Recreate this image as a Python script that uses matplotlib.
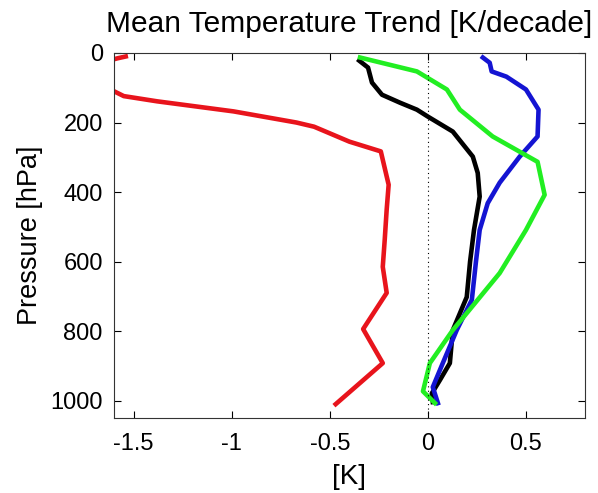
import matplotlib
matplotlib.use("Agg")
import matplotlib.pyplot as plt

plt.rcParams['font.family'] = ['Liberation Sans', 'DejaVu Sans']

red_p = [10, 15, 40, 70, 100, 110, 124, 139, 168, 200, 212, 255, 283, 379, 450, 537, 615, 690, 794, 892, 1010]
red_t = [-1.54, -1.58, -1.75, -1.8, -1.65, -1.6, -1.55, -1.38, -0.99, -0.67, -0.58, -0.40, -0.24, -0.20, -0.21, -0.22, -0.23, -0.21, -0.33, -0.23, -0.47]

black_p = [22, 42, 85, 120, 143, 163, 183, 226, 298, 345, 413, 509, 600, 702, 797, 892, 941, 979, 1004]
black_t = [-0.35, -0.305, -0.285, -0.234, -0.142, -0.056, 0.0, 0.127, 0.229, 0.254, 0.264, 0.235, 0.215, 0.198, 0.127, 0.112, 0.061, 0.02, 0.025]

blue_p = [13, 28, 53, 68, 105, 163, 240, 298, 373, 432, 509, 600, 710, 797, 892, 961, 1007]
blue_t = [0.28, 0.315, 0.325, 0.40, 0.50, 0.564, 0.559, 0.468, 0.366, 0.305, 0.264, 0.245, 0.224, 0.147, 0.076, 0.025, 0.051]

green_p = [13, 53, 105, 163, 240, 313, 408, 509, 633, 797, 892, 973, 1007]
green_t = [-0.346, -0.056, 0.097, 0.163, 0.33, 0.559, 0.595, 0.50, 0.366, 0.127, 0.01, -0.025, 0.036]

xticks = [-1.5, -1, -0.5, 0, 0.5]
xticklabels = ['-1.5', '-1', '-0.5', '0', '0.5']
yticks = [0, 200, 400, 600, 800, 1000]

fig = plt.figure(figsize=(5.98, 4.93), dpi=100)
ax = fig.add_axes([0.1906, 0.152, 0.7874, 0.7405])

lw = 3.3
ax.plot(red_t, red_p, color='#e8141c', lw=lw, solid_joinstyle='round')
ax.plot(black_t, black_p, color='black', lw=lw, solid_joinstyle='round')
ax.plot(blue_t, blue_p, color='#1414d2', lw=lw, solid_joinstyle='round')
ax.plot(green_t, green_p, color='#22ee22', lw=lw, solid_joinstyle='round')
ax.axvline(0, color='black', lw=0.8, ls=(0, (1, 3)))

ax.set_xlim(-1.6, 0.8)
ax.set_ylim(1050, 0)
ax.set_xticks(xticks)
ax.set_xticklabels(xticklabels)
ax.set_yticks(yticks)
ax.tick_params(direction='in', top=True, right=True, labelsize=17, length=5, width=0.8)
ax.tick_params(axis='x', pad=11)
ax.tick_params(axis='y', pad=8)
for s in ax.spines.values():
    s.set_linewidth(0.8)
    s.set_color('#333333')

ax.set_title('Mean Temperature Trend [K/decade]', fontsize=21.5, pad=15)
ax.set_xlabel('[K]', fontsize=20, labelpad=6)
ax.set_ylabel('Pressure [hPa]', fontsize=19.5, labelpad=5)

fig.savefig('out.png', dpi=100)
